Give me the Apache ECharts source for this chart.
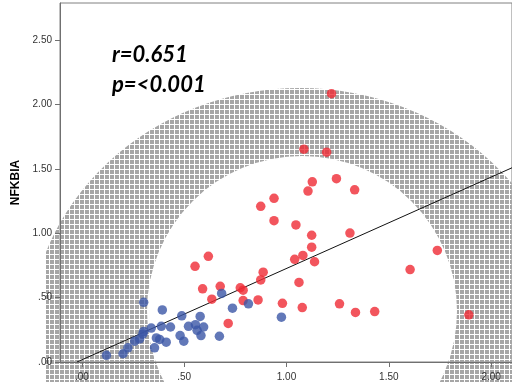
<!DOCTYPE html>
<html>
<head>
<meta charset="utf-8">
<script src="https://cdn.jsdelivr.net/npm/echarts@6/dist/echarts.min.js"></script>
<style>
  html, body { margin: 0; padding: 0; background: #fff; }
  #main { width: 512px; height: 382px; }
</style>
</head>
<body>
<div id="main"></div>
<script>
// values
var xTicks = [0, 0.5, 1, 1.5, 2];
var yTicks = [0, 0.5, 1, 1.5, 2, 2.5];

var blueX = [0.120, 0.201, 0.225, 0.258, 0.282, 0.302, 0.339, 0.355, 0.364, 0.388, 0.412, 0.433, 0.302, 0.393,
  0.488, 0.578, 0.480, 0.498, 0.521, 0.555, 0.563, 0.595, 0.582, 0.672, 0.736, 0.814, 0.683, 0.975, 0.298, 0.380];
var blueY = [0.052, 0.064, 0.110, 0.162, 0.179, 0.238, 0.264, 0.110, 0.187, 0.277, 0.154, 0.272, 0.464, 0.405,
  0.359, 0.354, 0.205, 0.162, 0.277, 0.290, 0.246, 0.272, 0.205, 0.200, 0.418, 0.452, 0.533, 0.348, 0.218, 0.175];

var redX = [1.220, 1.085, 1.196, 1.126, 1.244, 1.105, 1.333, 0.939, 0.874, 0.939, 1.046, 1.123, 1.310, 1.123,
  1.080, 1.040, 1.137, 0.618, 0.553, 0.886, 0.874, 1.061, 1.737, 1.604, 0.590, 0.676, 0.774, 0.788, 0.635,
  0.788, 0.861, 0.980, 1.077, 1.259, 1.337, 1.431, 1.891, 0.715];
var redY = [2.085, 1.654, 1.631, 1.400, 1.425, 1.328, 1.338, 1.272, 1.210, 1.098, 1.065, 0.985, 1.002, 0.892,
  0.828, 0.798, 0.779, 0.821, 0.744, 0.698, 0.638, 0.618, 0.867, 0.718, 0.569, 0.588, 0.577, 0.558, 0.488,
  0.477, 0.482, 0.456, 0.423, 0.452, 0.385, 0.392, 0.367, 0.300];

var fitIntercept = 0.017;
var fitSlope = 0.71;
var xMin = -0.107, xMax = 2.102;
var yMin = 0, yMax = 2.79;

function zip(xs, ys) {
  return xs.map(function (x, i) { return [x, ys[i]]; });
}
function fmt(v) {
  return v.toFixed(2).replace(/^0\./, '.');
}

// fit line from where it crosses y=0 to the right edge
var x0 = -fitIntercept / fitSlope;
var fitLine = [[x0, 0], [xMax, fitIntercept + fitSlope * xMax]];

// grey dotted ring in the background (a watermark, not data)
function makeWatermark() {
  var tile = document.createElement('canvas');
  tile.width = 5; tile.height = 5;
  var tc = tile.getContext('2d');
  tc.fillStyle = '#a6a6a6';
  tc.fillRect(0, 0, 4, 4);

  var cv = document.createElement('canvas');
  cv.width = 512; cv.height = 382;
  var c = cv.getContext('2d');
  c.beginPath();
  c.ellipse(300, 343, 272, 255, 0, 0, Math.PI * 2);
  c.moveTo(457, 311);
  c.arc(302, 311, 155, 0, Math.PI * 2);
  c.fillStyle = c.createPattern(tile, 'repeat');
  c.fill('evenodd');
  c.clearRect(0, 0, 46, 382);
  return cv;
}

var chart = echarts.init(document.getElementById('main'), null, { renderer: 'canvas' });

var option = {
  backgroundColor: '#ffffff',
  animation: false,
  grid: {
    left: 60, top: 3, width: 454, bottom: 15.5,
    show: true, borderColor: '#808080', borderWidth: 1
  },
  xAxis: {
    type: 'value', min: xMin, max: xMax,
    axisLine: { show: true, onZero: false, lineStyle: { color: '#707070', width: 1 } },
    axisTick: { show: true, length: 5, customValues: xTicks, lineStyle: { color: '#707070' } },
    axisLabel: { customValues: xTicks, margin: 10, fontSize: 10, color: '#333', fontFamily: 'Liberation Sans',
      formatter: fmt },
    splitLine: { show: false }
  },
  yAxis: {
    type: 'value', min: yMin, max: yMax,
    name: 'NFKBIA', nameLocation: 'middle', nameGap: 37,
    nameTextStyle: { fontSize: 12, fontWeight: 'bold', color: '#000', fontFamily: 'Liberation Sans' },
    axisLine: { show: true, onZero: false, lineStyle: { color: '#707070', width: 1 } },
    axisTick: { show: true, length: 5, customValues: yTicks, lineStyle: { color: '#707070' } },
    axisLabel: { customValues: yTicks, margin: 8, fontSize: 10, color: '#333', fontFamily: 'Liberation Sans',
      formatter: fmt },
    splitLine: { show: false }
  },
  graphic: [
    {
      type: 'image', z: 0, silent: true, left: 0, top: 0,
      style: { image: makeWatermark(), width: 512, height: 382 }
    },
    {
      type: 'text', left: 112, top: 44, z: 100,
      style: { text: 'r=0.651', font: 'italic bold 22px Lato', fill: '#000' }
    },
    {
      type: 'text', left: 112, top: 74, z: 100,
      style: { text: 'p=<0.001', font: 'italic bold 22px Lato', fill: '#000' }
    }
  ],
  series: [
    {
      type: 'line', data: fitLine, symbol: 'none', z: 3,
      lineStyle: { color: '#111', width: 1 }
    },
    {
      type: 'scatter', data: zip(redX, redY), symbolSize: 9.5, z: 4,
      itemStyle: { color: '#ef2b35' }
    },
    {
      type: 'scatter', data: zip(blueX, blueY), symbolSize: 9.5, z: 5,
      itemStyle: { color: '#3b56a6' }
    }
  ]
};

chart.setOption(option);
</script>
</body>
</html>
